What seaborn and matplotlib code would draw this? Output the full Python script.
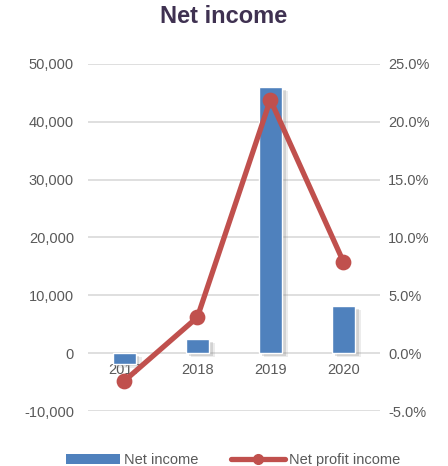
import matplotlib
matplotlib.use("Agg")
import matplotlib.pyplot as plt
import matplotlib.patheffects as pe
from matplotlib.patches import Patch
from matplotlib.lines import Line2D
from matplotlib.ticker import FuncFormatter
import seaborn as sns
import pandas as pd

years = ["2017", "2018", "2019", "2020"]
net_income = [-1800, 2400, 46000, 8100]
net_profit_pct = [-2.4, 3.1, 21.9, 7.9]
left_ticks = [-10000, 0, 10000, 20000, 30000, 40000, 50000]
right_ticks = [-5, 0, 5, 10, 15, 20, 25]

df = pd.DataFrame({"year": years, "income": net_income, "pct": net_profit_pct})

sns.set_theme(style="white")
plt.rcParams['font.family'] = ['Liberation Sans', 'DejaVu Sans']

BLUE = "#4F81BD"
RED = "#C0504D"
TXT = "#595959"

fig = plt.figure(figsize=(4.48, 4.66), dpi=100)
ax = fig.add_axes([0.196, 0.118, 0.652, 0.745])
sns.barplot(data=df, x="year", y="income", color=BLUE, width=0.32, ax=ax,
            saturation=1, zorder=2)
for p in ax.patches:
    p.set_path_effects([
        pe.SimplePatchShadow(offset=(4, -3), shadow_rgbFace="#999999", alpha=0.18),
        pe.SimplePatchShadow(offset=(2.5, -2), shadow_rgbFace="#888888", alpha=0.25),
        pe.Normal()])
ax.set_ylim(-10000, 50000)
ax.set_xlim(-0.5, 3.5)
ax.set_yticks(left_ticks)
ax.yaxis.set_major_formatter(FuncFormatter(lambda v, _: f"{int(v):,}"))
ax.grid(axis="y", color="#D9D9D9", linewidth=1.2, zorder=0)
ax.set_axisbelow(True)
for s in ax.spines.values():
    s.set_visible(False)
ax.spines['bottom'].set_position(('data', 0))
ax.tick_params(axis="both", length=0, colors=TXT, labelsize=10.5)
ax.tick_params(axis="x", pad=7)
ax.tick_params(axis="y", pad=10)
ax.set_xlabel("")
ax.set_ylabel("")

ax2 = ax.twinx()
sns.pointplot(data=df, x="year", y="pct", color=RED, ax=ax2, markers="o",
              markersize=8.5, linewidth=3.8)
ax2.set_ylim(-5, 25)
ax2.set_xlim(-0.5, 3.5)
ax2.set_yticks(right_ticks)
ax2.yaxis.set_major_formatter(FuncFormatter(lambda v, _: f"{v:.1f}%"))
for s in ax2.spines.values():
    s.set_visible(False)
ax2.tick_params(axis="both", length=0, colors=TXT, labelsize=10.5)
ax2.tick_params(axis="y", pad=6)
ax2.set_ylabel("")
ax2.set_xlabel("")

fig.suptitle("Net income", x=0.5, y=0.99, fontsize=17, fontweight="bold", color="#3F3151")

handles = [Patch(facecolor=BLUE, edgecolor="none"),
           Line2D([0], [0], color=RED, lw=3.8, marker="o", markersize=7)]
fig.legend(handles, ["Net income", "Net profit income"], loc="lower center",
           bbox_to_anchor=(0.52, -0.03), ncol=2, frameon=False, fontsize=10.5,
           handlelength=3.7, handleheight=0.7, columnspacing=2.2, handletextpad=0.3,
           labelcolor=TXT)

fig.savefig("out.png", dpi=100)
